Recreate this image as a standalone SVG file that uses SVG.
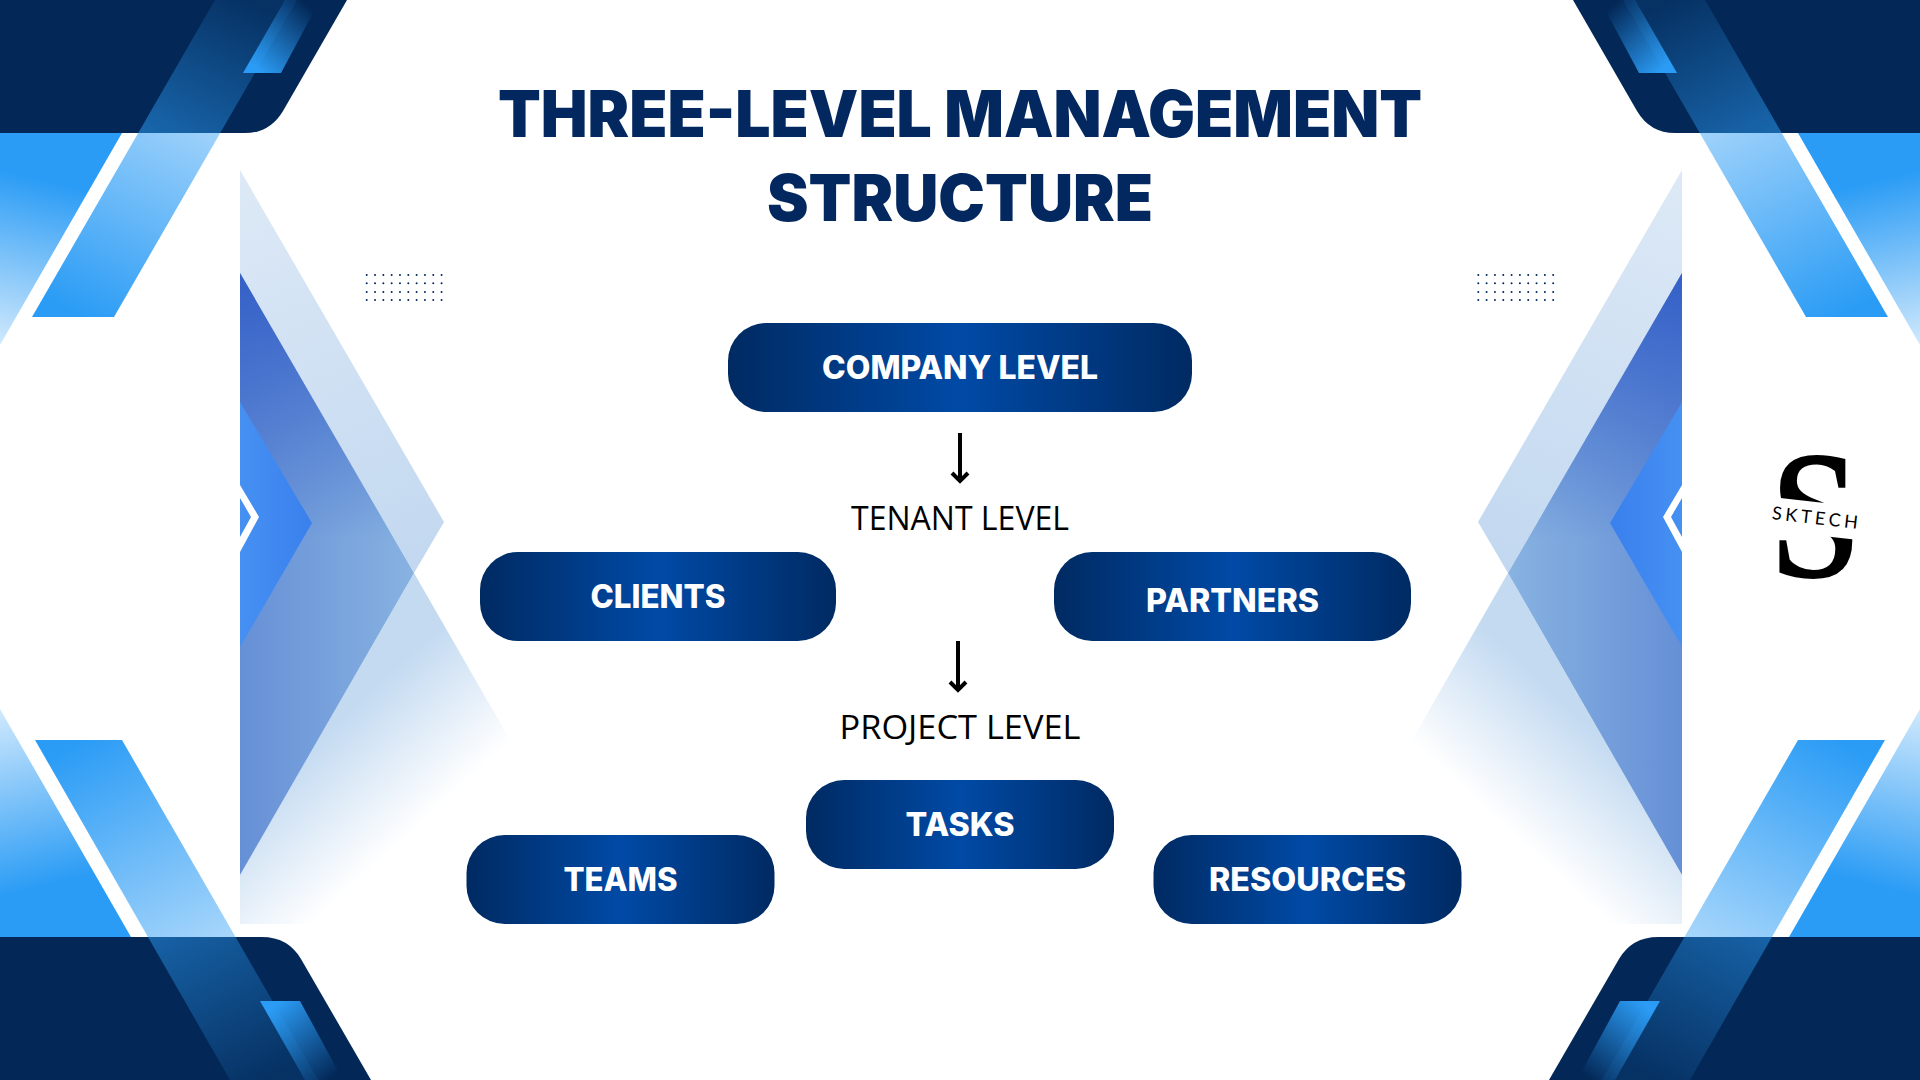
<svg xmlns="http://www.w3.org/2000/svg" xmlns:xlink="http://www.w3.org/1999/xlink" width="1920" height="1080" viewBox="0 0 1920 1080">
<style>
.dark{fill:#032857}
.node{fill:url(#nodeGrad)}
.nt{font-family:"Inter","Liberation Sans",sans-serif;font-weight:800;fill:#fff;text-anchor:middle;font-size:32px}
.lv{font-family:"Open Sans","Noto Sans",sans-serif;font-size:33.5px;fill:#000;text-anchor:middle}
.ti{font-family:"Inter","Liberation Sans",sans-serif;font-weight:900;fill:#03285f;text-anchor:middle;font-size:65px}
.arr{fill:none;stroke:#000;stroke-width:4}
.dots{stroke:#03285f;stroke-width:2;stroke-linecap:round;stroke-dasharray:0 8.32}
</style>
<defs>
<linearGradient id="nodeGrad" x1="0" y1="0" x2="1" y2="0"><stop offset="0" stop-color="#002a62"/><stop offset="0.5" stop-color="#004aa6"/><stop offset="1" stop-color="#002a62"/></linearGradient>
<linearGradient id="triT" gradientUnits="userSpaceOnUse" x1="40" y1="180" x2="0" y2="345"><stop offset="0" stop-color="#2b9cf5"/><stop offset="1" stop-color="#2b9cf5" stop-opacity="0.22"/></linearGradient>
<linearGradient id="triB" gradientUnits="userSpaceOnUse" x1="45" y1="885" x2="0" y2="709"><stop offset="0" stop-color="#2b9cf5"/><stop offset="1" stop-color="#2b9cf5" stop-opacity="0.22"/></linearGradient>
<linearGradient id="bandT" gradientUnits="userSpaceOnUse" x1="85" y1="317" x2="245" y2="0"><stop offset="0" stop-color="#2b9cf5"/><stop offset="0.6" stop-color="#2b9cf5" stop-opacity="0.48"/><stop offset="1" stop-color="#2b9cf5" stop-opacity="0.08"/></linearGradient>
<linearGradient id="bandB" gradientUnits="userSpaceOnUse" x1="85" y1="740" x2="265" y2="1080"><stop offset="0" stop-color="#2b9cf5"/><stop offset="0.58" stop-color="#2b9cf5" stop-opacity="0.46"/><stop offset="1" stop-color="#2b9cf5" stop-opacity="0.08"/></linearGradient>
<linearGradient id="smT" gradientUnits="userSpaceOnUse" x1="255" y1="68" x2="310" y2="8"><stop offset="0" stop-color="#2b9cf5"/><stop offset="1" stop-color="#2b9cf5" stop-opacity="0"/></linearGradient>
<linearGradient id="smB" gradientUnits="userSpaceOnUse" x1="275" y1="1005" x2="335" y2="1075"><stop offset="0" stop-color="#2b9cf5"/><stop offset="1" stop-color="#2b9cf5" stop-opacity="0"/></linearGradient>
<linearGradient id="aOnly" gradientUnits="userSpaceOnUse" x1="240" y1="170" x2="414" y2="573"><stop offset="0" stop-color="#dde9f6"/><stop offset="1" stop-color="#c2d8f0"/></linearGradient>
<linearGradient id="ovBase" gradientUnits="userSpaceOnUse" x1="240" y1="0" x2="413" y2="0"><stop offset="0" stop-color="#6690d6"/><stop offset="1" stop-color="#87b2e1"/></linearGradient>
<linearGradient id="ovTop" gradientUnits="userSpaceOnUse" x1="0" y1="273" x2="0" y2="540"><stop offset="0" stop-color="#3460c8"/><stop offset="1" stop-color="#3460c8" stop-opacity="0"/></linearGradient>
<linearGradient id="bOnly" gradientUnits="userSpaceOnUse" x1="370" y1="690" x2="460" y2="788"><stop offset="0" stop-color="#c3daf1"/><stop offset="1" stop-color="#c3daf1" stop-opacity="0"/></linearGradient>
<linearGradient id="inner" gradientUnits="userSpaceOnUse" x1="240" y1="0" x2="312" y2="0"><stop offset="0" stop-color="#4690f2"/><stop offset="1" stop-color="#3a80ee"/></linearGradient>
</defs>
<rect width="1920" height="1080" fill="#fff"/>
<g id="corners-left">
<polygon points="0,133 122,133 0,345" fill="url(#triT)"/>
<polygon points="0,709 131,937 0,937" fill="url(#triB)"/>
<path class="dark" d="M0 0H347L283 111Q270 133 245 133H0Z"/>
<path class="dark" d="M0 937H262Q288 937 301 959L371 1080H0Z"/>
<polygon points="215,0 297,0 114,317 32,317" fill="url(#bandT)"/>
<polygon points="35,740 122,740 318,1080 230,1080" fill="url(#bandB)"/>
<polygon points="285,0 320,0 281,73 243,73" fill="url(#smT)"/>
<polygon points="260,1001 300,1001 343,1080 305,1080" fill="url(#smB)"/>
</g>
<use href="#corners-left" xlink:href="#corners-left" transform="matrix(-1 0 0 1 1920 0)"/>
<g id="panel-left">
<polygon points="240,170 444,522 414,573 240,273" fill="url(#aOnly)"/>
<polygon points="414,573 510,740 403,924 240,924 240,875" fill="url(#bOnly)"/>
<polygon points="240,273 414,573 240,875" fill="url(#ovBase)"/>
<polygon points="240,273 414,573 240,875" fill="url(#ovTop)"/>
<polygon points="240,402 312,523 240,647" fill="url(#inner)"/>
<polygon points="240,485 259,517 240,552 240,537 251,517 240,498" fill="#fff"/>
</g>
<use href="#panel-left" xlink:href="#panel-left" transform="matrix(-1 0 0 1 1922 0)"/>
<g id="dots-left">
<line class="dots" x1="366.7" y1="275" x2="442" y2="275"/><line class="dots" x1="366.7" y1="283.3" x2="442" y2="283.3"/><line class="dots" x1="366.7" y1="292" x2="442" y2="292"/><line class="dots" x1="366.7" y1="300" x2="442" y2="300"/>
</g>
<g id="dots-right">
<line class="dots" x1="1478.3" y1="275" x2="1554" y2="275"/><line class="dots" x1="1478.3" y1="283.3" x2="1554" y2="283.3"/><line class="dots" x1="1478.3" y1="292" x2="1554" y2="292"/><line class="dots" x1="1478.3" y1="300" x2="1554" y2="300"/>
</g>
<g id="title">
<text class="ti" x="960" y="137" textLength="924" lengthAdjust="spacingAndGlyphs">THREE-LEVEL MANAGEMENT</text>
<text class="ti" x="960" y="221" textLength="386" lengthAdjust="spacingAndGlyphs">STRUCTURE</text>
</g>
<g id="connectors">
<path class="arr" d="M960 433V481M952 473L960 481L968 473"/>
<path class="arr" d="M958 641V690M950 682L958 690L966 682"/>
</g>
<g id="node-company"><rect class="node" x="728" y="323" width="464" height="89" rx="38"/><text class="nt" x="960" y="379" textLength="276" lengthAdjust="spacingAndGlyphs">COMPANY LEVEL</text></g>
<g id="label-tenant"><text class="lv" x="960" y="530" textLength="218" lengthAdjust="spacingAndGlyphs">TENANT LEVEL</text></g>
<g id="node-clients"><rect class="node" x="480" y="552" width="356" height="89" rx="38"/><text class="nt" x="658" y="608" textLength="135" lengthAdjust="spacingAndGlyphs">CLIENTS</text></g>
<g id="node-partners"><rect class="node" x="1054" y="552" width="357" height="89" rx="38"/><text class="nt" x="1232.500" y="612" textLength="173" lengthAdjust="spacingAndGlyphs">PARTNERS</text></g>
<g id="label-project"><text class="lv" x="960" y="739" textLength="241" lengthAdjust="spacingAndGlyphs">PROJECT LEVEL</text></g>
<g id="node-tasks"><rect class="node" x="806" y="780" width="308" height="89" rx="38"/><text class="nt" x="960" y="836" textLength="109" lengthAdjust="spacingAndGlyphs">TASKS</text></g>
<g id="node-teams"><rect class="node" x="466.500" y="835" width="308" height="89" rx="38"/><text class="nt" x="620.500" y="891" textLength="114" lengthAdjust="spacingAndGlyphs">TEAMS</text></g>
<g id="node-resources"><rect class="node" x="1153.500" y="835" width="308" height="89" rx="38"/><text class="nt" x="1307.500" y="891" textLength="197" lengthAdjust="spacingAndGlyphs">RESOURCES</text></g>
<g id="logo">
<text x="1815" y="577" text-anchor="middle" font-family="Liberation Serif,serif" font-weight="700" font-size="185" textLength="88" lengthAdjust="spacingAndGlyphs" fill="#000">S</text>
<rect x="1760" y="502" width="110" height="33" fill="#fff" transform="rotate(6.500 1815 518)"/>
<text x="1815" y="524" text-anchor="middle" font-family="Lato,Inter,sans-serif" font-size="18" fill="#000" textLength="86" transform="rotate(6.500 1815 518)">SKTECH</text>
</g>
</svg>
